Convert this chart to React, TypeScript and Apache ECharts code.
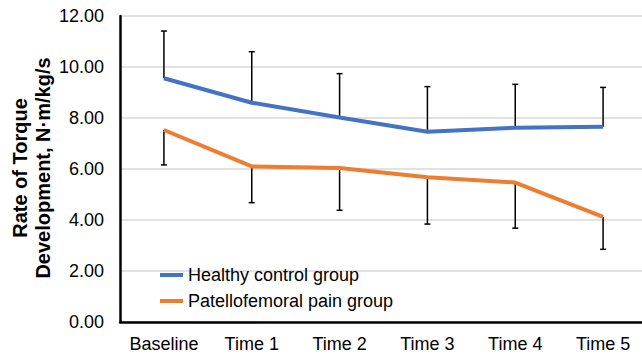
import React, { useEffect, useRef } from "react";
import * as echarts from "echarts";

const categories = ["Baseline", "Time 1", "Time 2", "Time 3", "Time 4", "Time 5"];
const healthyMean = [9.56, 8.6, 8.02, 7.46, 7.62, 7.66];
const healthySD = [1.85, 2.0, 1.72, 1.77, 1.7, 1.54];
const pfpMean = [7.53, 6.1, 6.04, 5.68, 5.47, 4.12];
const pfpSD = [1.37, 1.42, 1.66, 1.84, 1.79, 1.27];
const yTicks = [0, 2, 4, 6, 8, 10, 12];

const FONT = "'Liberation Sans', Arial, sans-serif";

function errorBarSeries(name: string, means: number[], sds: number[], dir: number) {
  return {
    type: "custom",
    name,
    z: 1,
    silent: true,
    clip: false,
    data: means.map((m, i) => [i, m, m + dir * sds[i]]),
    renderItem: (params: any, api: any) => {
      const p0 = api.coord([api.value(0), api.value(1)]);
      const p1 = api.coord([api.value(0), api.value(2)]);
      const cap = 3;
      const style = { stroke: "#000", lineWidth: 1.5 };
      return {
        type: "group",
        children: [
          { type: "line", shape: { x1: p0[0], y1: p0[1], x2: p1[0], y2: p1[1] }, style },
          { type: "line", shape: { x1: p1[0] - cap, y1: p1[1], x2: p1[0] + cap, y2: p1[1] }, style },
        ],
      };
    },
  };
}

export default function App() {
  const ref = useRef<HTMLDivElement>(null);
  useEffect(() => {
    if (!ref.current) return;
    const chart = echarts.init(ref.current, undefined, { renderer: "svg" });
    chart.setOption({
      animation: false,
      textStyle: { fontFamily: FONT },
      grid: { left: 120, top: 16, bottom: 34, width: 527, outerBoundsMode: "none", containLabel: false },
      legend: {
        orient: "vertical",
        left: 155,
        top: 261,
        itemWidth: 23,
        itemHeight: 4,
        itemGap: 8,
        icon: "rect",
        data: ["Healthy control group", "Patellofemoral pain group"],
        textStyle: { fontSize: 18, color: "#000", fontFamily: FONT },
      },
      graphic: [
        {
          type: "text",
          x: 20,
          y: 168,
          rotation: Math.PI / 2,
          style: {
            text: "Rate of Torque",
            fontSize: 20,
            fontWeight: "bold",
            fontFamily: FONT,
            fill: "#000",
            textAlign: "center",
            textVerticalAlign: "middle",
          },
        },
        {
          type: "text",
          x: 43,
          y: 168,
          rotation: Math.PI / 2,
          style: {
            text: "Development, N\u00b7m/kg/s",
            fontSize: 20,
            fontWeight: "bold",
            fontFamily: FONT,
            fill: "#000",
            textAlign: "center",
            textVerticalAlign: "middle",
          },
        },
      ],
      xAxis: {
        type: "category",
        data: categories,
        boundaryGap: true,
        axisLine: { lineStyle: { color: "#000", width: 2.5 } },
        axisTick: { show: false },
        axisLabel: { fontSize: 18, color: "#000", margin: 13, fontFamily: FONT, interval: 0 },
      },
      yAxis: {
        type: "value",
        min: yTicks[0],
        max: yTicks[yTicks.length - 1],
        interval: 2,
        axisLine: { show: true, lineStyle: { color: "#000", width: 2.5 } },
        axisTick: { show: false },
        axisLabel: {
          fontSize: 18,
          color: "#000",
          margin: 16,
          fontFamily: FONT,
          formatter: (v: number) => v.toFixed(2),
        },
        splitLine: { lineStyle: { color: "#d9d9d9", width: 1.5 } },
      },
      series: [
        errorBarSeries("hsd", healthyMean, healthySD, 1),
        errorBarSeries("psd", pfpMean, pfpSD, -1),
        {
          type: "line",
          name: "Healthy control group",
          data: healthyMean,
          symbol: "none",
          z: 3,
          itemStyle: { color: "#4472C4" },
          lineStyle: { color: "#4472C4", width: 4 },
        },
        {
          type: "line",
          name: "Patellofemoral pain group",
          data: pfpMean,
          symbol: "none",
          z: 3,
          itemStyle: { color: "#ED7D31" },
          lineStyle: { color: "#ED7D31", width: 4 },
        },
      ],
    });
    return () => chart.dispose();
  }, []);
  return <div ref={ref} style={{ width: 642, height: 356, position: "absolute", left: 0, top: 0 }} />;
}
